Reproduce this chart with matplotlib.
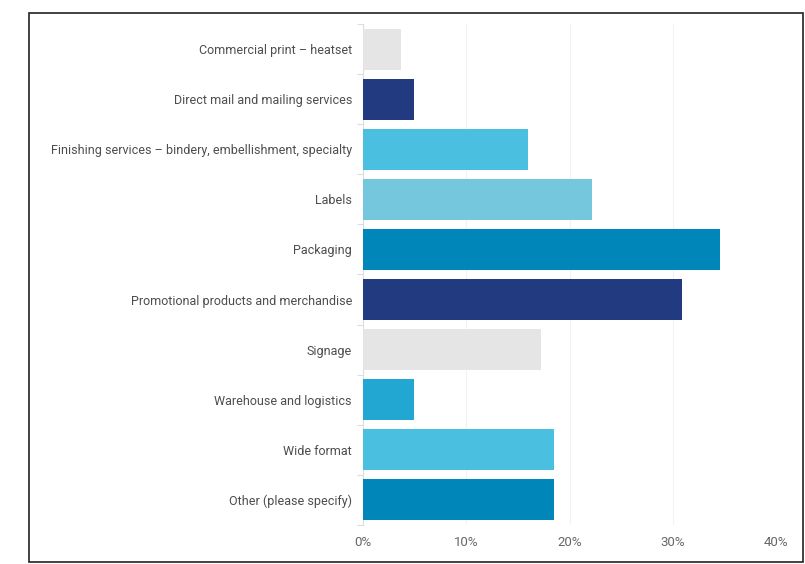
import matplotlib.pyplot as plt
from matplotlib.patches import Rectangle
import numpy as np

plt.rcParams['font.family'] = ['Roboto', 'DejaVu Sans']

categories = ['Commercial print \u2013 heatset',
              'Direct mail and mailing services',
              'Finishing services \u2013 bindery, embellishment, specialty',
              'Labels',
              'Packaging',
              'Promotional products and merchandise',
              'Signage',
              'Warehouse and logistics',
              'Wide format',
              'Other (please specify)']
values = [3.7, 4.9, 16.0, 22.2, 34.6, 30.9, 17.2, 4.9, 18.5, 18.5]
colors = ['#e5e5e5', '#213a80', '#4bbfe0', '#75c7dd', '#0086b8',
          '#213a80', '#e5e5e5', '#22a6d2', '#4bbfe0', '#0086b8']
xticks = [0, 10, 20, 30, 40]
xticklabels = ['0%', '10%', '20%', '30%', '40%']

fig = plt.figure(figsize=(8.05, 5.64), dpi=100)
ax = fig.add_axes([0.451, 0.07, 0.513, 0.8866])

y = np.arange(len(categories))
ax.barh(y, values, height=0.82, color=colors, zorder=3)

ax.set_xlim(0, 40)
ax.set_ylim(len(categories) - 0.5, -0.5)
ax.set_xticks(xticks)
ax.set_xticklabels(xticklabels, fontsize=9.5, color='#666666')
ax.set_yticks(y)
ax.set_yticklabels(categories, fontsize=9, color='#4d4d4d')
ax.tick_params(axis='y', length=0, pad=8)
ax.tick_params(axis='x', length=0, pad=8)
ax.set_yticks(np.arange(len(categories) + 1) - 0.5, minor=True)
ax.tick_params(axis='y', which='minor', length=4, color='#dddddd', width=0.8)

ax.grid(axis='x', color='#f0f2f5', linewidth=0.8, zorder=0)
for s in ['top', 'right', 'bottom']:
    ax.spines[s].set_visible(False)
ax.spines['left'].set_color('#dddddd')
ax.spines['left'].set_linewidth(0.8)

# outer frame
fig.patches.append(Rectangle((29 / 805, 1 - 562 / 564), 774 / 805, 549 / 564,
                             transform=fig.transFigure, fill=False,
                             edgecolor='#222222', linewidth=1.2))

plt.savefig('out.png', dpi=100)
